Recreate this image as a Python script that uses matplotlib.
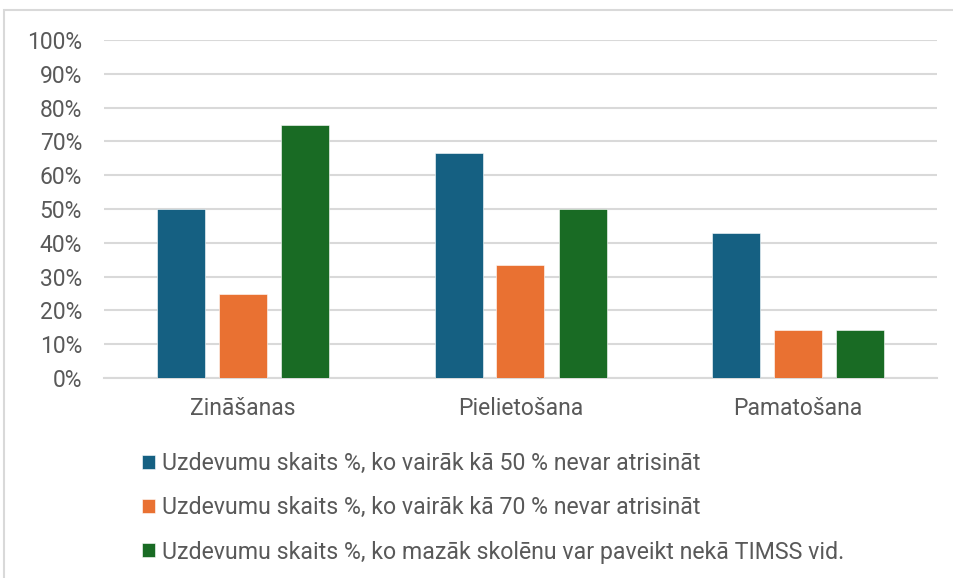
import matplotlib
matplotlib.use("Agg")
import matplotlib.pyplot as plt
from matplotlib.patches import Rectangle
import numpy as np

categories = ["Zināšanas", "Pielietošana", "Pamatošana"]
series_names = [
    "Uzdevumu skaits %, ko vairāk kā 50 % nevar atrisināt",
    "Uzdevumu skaits %, ko vairāk kā 70 % nevar atrisināt",
    "Uzdevumu skaits %, ko mazāk skolēnu var paveikt nekā TIMSS vid.",
]
s50 = [0.50, 0.6667, 0.4286]
s70 = [0.25, 0.3333, 0.1429]
timss = [0.75, 0.50, 0.1429]
yticks = [i / 10 for i in range(11)]
ytick_labels = [f"{i*10}%" for i in range(11)]

colors = ["#156082", "#E97132", "#196B24"]
text_color = "#595959"
grid_color = "#D9D9D9"

plt.rcParams["font.family"] = ["Roboto", "DejaVu Sans"]

W, H = 954, 578
fig = plt.figure(figsize=(W / 100, H / 100), dpi=100)
ax = fig.add_axes([104 / W, 200 / H, 833 / W, 338 / H])

x = np.arange(len(categories))
cat_w = 833 / 3
offset = 62 / cat_w
width = 48 / cat_w
for i, (vals, name) in enumerate(zip([s50, s70, timss], series_names)):
    ax.bar(x + (i - 1) * offset, vals, width=width, color=colors[i],
           label=name, zorder=3, edgecolor="white", linewidth=0.4)

ax.set_xlim(-0.5, len(categories) - 0.5)
ax.set_ylim(0, 1)
ax.set_yticks(yticks)
ax.set_yticklabels(ytick_labels)
ax.set_xticks(x)
ax.set_xticklabels(categories)
ax.yaxis.grid(True, color=grid_color, linewidth=1.5, zorder=0)
ax.set_axisbelow(True)
for sp in ["top", "right", "left"]:
    ax.spines[sp].set_visible(False)
ax.spines["bottom"].set_color(grid_color)
ax.spines["bottom"].set_linewidth(1.5)
ax.tick_params(axis="both", length=0, colors=text_color)
ax.tick_params(axis="y", pad=15.8, labelsize=16.5)
ax.tick_params(axis="x", pad=14, labelsize=16.5)

leg = ax.legend(loc="upper left", bbox_to_anchor=(142 / W, 1 - 452 / H),
                bbox_transform=fig.transFigure, frameon=False,
                handlelength=0.55, handleheight=0.55, handletextpad=0.3,
                labelspacing=0.92, fontsize=16.7, borderaxespad=0,
                borderpad=0)
for t in leg.get_texts():
    t.set_color(text_color)

border = Rectangle((4 / W, -0.05), 1.2, (H - 10) / H + 0.05,
                   transform=fig.transFigure, fill=False,
                   edgecolor=grid_color, linewidth=1.5)
fig.add_artist(border)

fig.savefig("out.png", dpi=100)
